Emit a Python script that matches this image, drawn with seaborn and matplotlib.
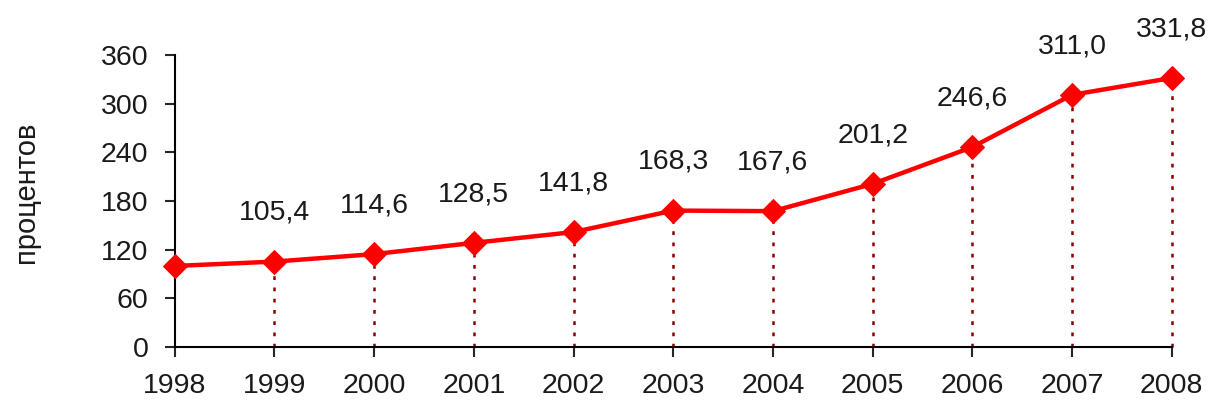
import matplotlib
matplotlib.use('Agg')
import matplotlib.pyplot as plt
import seaborn as sns
import pandas as pd

# growth index, 1998 = 100
years = [1998, 1999, 2000, 2001, 2002, 2003, 2004, 2005, 2006, 2007, 2008]
values = [100.0, 105.4, 114.6, 128.5, 141.8, 168.3, 167.6, 201.2, 246.6, 311.0, 331.8]
labels = ['', '105,4', '114,6', '128,5', '141,8', '168,3', '167,6', '201,2', '246,6', '311,0', '331,8']
y_ticks = [0, 60, 120, 180, 240, 300, 360]

sns.set_style('ticks')
plt.rcParams['font.family'] = ['Liberation Sans', 'DejaVu Sans']

df = pd.DataFrame({'year': years, 'value': values})

fig = plt.figure(figsize=(12.13, 4.05), dpi=100)
ax = fig.add_axes([0.144, 0.143, 0.822, 0.721])

# dotted drop lines to the x axis (none for the base year)
drops = df[df['year'] > years[0]]
ax.vlines(drops['year'], 0, drops['value'], colors='#8b0000', linestyles=(0, (1.5, 3.0)),
          linewidth=1.8, zorder=1, clip_on=False)

sns.lineplot(data=df, x='year', y='value', ax=ax, color='#ff0000', linewidth=3.2,
             marker='D', markersize=12, markeredgecolor='#ff0000', zorder=3, clip_on=False)

for x, y, t in zip(years, values, labels):
    ax.annotate(t, (x, y), xytext=(0, 35), textcoords='offset points',
                ha='center', va='center', fontsize=20.5, color='#1a1a1a')

ax.set_xlim(1998, 2008)
ax.set_ylim(0, 360)
ax.set_xticks(years)
ax.set_yticks(y_ticks)
ax.tick_params(axis='both', labelsize=20.5, length=7, width=1.5, direction='out', labelcolor='#1a1a1a')
ax.tick_params(axis='y', pad=12)
ax.tick_params(axis='x', pad=12)
ax.set_xlabel('')
ax.set_ylabel('процентов', fontsize=21, color='#1a1a1a')
ax.yaxis.set_label_coords(-0.135, 0.53)
for s in ['top', 'right']:
    ax.spines[s].set_visible(False)
for s in ['left', 'bottom']:
    ax.spines[s].set_linewidth(1.5)
    ax.spines[s].set_color('black')
ax.margins(0)

fig.savefig('out.png', dpi=100)
